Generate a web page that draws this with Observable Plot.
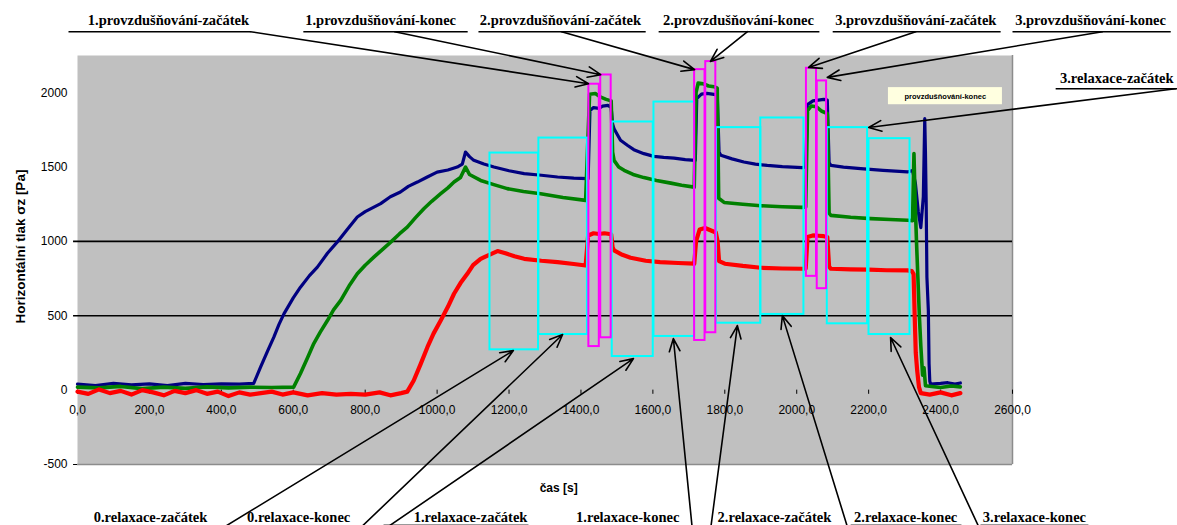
<!DOCTYPE html>
<html><head><meta charset="utf-8">
<script src="https://cdn.jsdelivr.net/npm/d3@7"></script>
<script src="https://cdn.jsdelivr.net/npm/@observablehq/plot@0.6"></script>
<style>body{margin:0;background:#fff}</style>
</head><body><div id="chart"></div>
<script>
// ---- measured series: [time s, horizontal pressure Pa] ----
const blueSeries = [[0,40],[50,30],[100,45],[150,35],[200,42],[250,30],[300,45],[350,38],[400,42],[450,40],[490,45],[509,154],[530,270],[546,356],[560,440],[574,513],[600,620],[620,692],[645,770],[667,827],[695,920],[722,995],[750,1080],[778,1164],[800,1200],[843,1254],[870,1300],[898,1332],[920,1370],[945,1399],[970,1430],[1000,1466],[1030,1480],[1056,1500],[1070,1520],[1079,1601],[1090,1570],[1102,1545],[1130,1520],[1158,1500],[1200,1475],[1242,1456],[1290,1445],[1335,1433],[1380,1425],[1420,1422],
[1425,1880],[1435,1900],[1450,1895],[1460,1910],[1475,1915],[1484,1900],
[1488,1790],[1492,1758],[1510,1680],[1530,1645],[1547,1617],[1575,1590],[1603,1572],[1630,1565],[1659,1560],[1690,1550],[1718,1545],
[1722,1960],[1735,1990],[1750,1995],[1765,1990],[1779,1985],
[1784,1600],[1789,1579],[1820,1555],[1853,1534],[1885,1520],[1918,1511],[1960,1503],[2015,1496],[2025,1500],
[2030,1920],[2045,1945],[2060,1950],[2075,1955],[2085,1950],
[2090,1530],[2095,1511],[2130,1500],[2178,1489],[2240,1478],[2308,1467],[2322,1477],
[2330,1390],[2338,1200],[2345,1093],[2352,1300],[2356,1825],[2358,1590],[2360,1255],[2362,760],[2366,535],[2368,178],[2370,60],[2372,40],[2400,45],[2420,50],[2440,40],[2455,48]];

const greenSeries = [[0,20],[60,15],[120,25],[180,10],[240,20],[300,12],[360,22],[420,15],[480,20],[540,18],[601,20],[620,112],[640,220],[657,313],[675,390],[695,468],[712,540],[732,603],[755,700],[778,782],[800,840],[824,894],[850,950],[871,995],[895,1050],[917,1096],[940,1160],[963,1220],[985,1270],[1010,1321],[1030,1360],[1047,1399],[1065,1430],[1079,1500],[1090,1450],[1121,1410],[1160,1380],[1195,1355],[1240,1335],[1288,1321],[1350,1295],[1413,1276],
[1424,1990],[1440,1994],[1455,1970],[1470,1955],[1484,1945],
[1488,1600],[1492,1545],[1505,1500],[1520,1478],[1545,1450],[1575,1429],[1610,1410],[1650,1392],[1680,1378],[1715,1365],
[1720,2000],[1726,2065],[1740,2060],[1755,2045],[1770,2040],[1779,2030],
[1783,1290],[1798,1262],[1850,1250],[1900,1240],[1960,1233],[2015,1229],[2025,1232],
[2030,1880],[2040,1910],[2055,1905],[2070,1875],[2085,1860],
[2090,1190],[2095,1175],[2150,1162],[2206,1153],[2260,1147],[2308,1142],[2322,1140],
[2326,1590],[2329,1300],[2333,1000],[2337,750],[2341,500],[2345,300],[2350,100],[2354,150],[2358,30],[2375,25],[2400,18],[2430,28],[2455,22]];

const redSeries = [[0,-10],[30,-25],[60,5],[90,-20],[120,-5],[150,-30],[180,0],[210,-15],[240,-35],[270,-5],[300,-20],[330,0],[360,-25],[390,-10],[420,-40],[450,-15],[480,-30],[510,-20],[540,-10],[570,-30],[600,-15],[640,-35],[680,-20],[720,-30],[760,-25],[800,-30],[840,-15],[870,-35],[900,-20],[917,-10],[935,65],[955,180],[973,289],[990,380],[1010,468],[1030,560],[1047,648],[1065,720],[1084,782],[1100,840],[1121,883],[1145,910],[1168,935],[1190,920],[1215,900],[1242,883],[1290,870],[1335,861],[1380,848],[1413,838],
[1420,1040],[1435,1055],[1450,1050],[1465,1055],[1484,1048],
[1488,960],[1492,939],[1515,910],[1538,890],[1580,870],[1620,861],[1670,855],[1715,850],
[1720,1000],[1730,1080],[1745,1090],[1760,1075],[1775,1060],[1780,1000],
[1784,868],[1800,850],[1850,835],[1900,823],[1960,818],[2015,816],[2025,818],
[2030,1030],[2045,1040],[2060,1038],[2075,1035],[2085,1030],
[2090,830],[2095,816],[2150,812],[2200,810],[2250,806],[2308,805],[2320,800],
[2325,780],[2328,500],[2331,250],[2335,130],[2340,20],[2345,-20],[2370,-30],[2400,-15],[2430,-35],[2455,-20]];

// ---- axes ----
const xTicks = [0,200,400,600,800,1000,1200,1400,1600,1800,2000,2200,2400,2600];
const xTickLabels = ["0,0","200,0","400,0","600,0","800,0","1000,0","1200,0","1400,0","1600,0","1800,0","2000,0","2200,0","2400,0","2600,0"];
const yTicks = [2000,1500,1000,500,0,-500];
const yTickLabels = ["2000","1500","1000","500","0","-500"];
const gridValues = [1000,500];

// ---- windows (s, Pa) ----
const aerStart = [1422,1455,1716,1747,2027,2057];
const aerEnd   = [1451,1484,1745,1775,2055,2083];
const aerLow   = [293,352,334,386,765,682];
const aerHigh  = [2057,2119,2155,2209,2164,2079];

const relStart = [1147,1283,1487,1603,1777,1900,2085,2201];
const relEnd   = [1282,1418,1601,1716,1900,2020,2197,2315];
const relLow   = [271,374,226,361,450,509,446,374];
const relHigh  = [1594,1695,1803,1937,1765,1830,1765,1691];

// ---- annotation labels ----
const topLabels = ["1.provzdušňování-začátek","1.provzdušňování-konec","2.provzdušňování-začátek","2.provzdušňování-konec","3.provzdušňování-začátek","3.provzdušňování-konec","3.relaxace-začátek"];
const topLabelT = [253,843,1343,1838,2331,2817,2890];
const topLabelV = [2484,2484,2484,2484,2484,2484,2094];
const topUnderT1 = [-25,628,1115,1616,2100,2600,2720];
const topUnderT2 = [481,1085,1580,2063,2567,3040,3059];
const topUnderV = [2410,2410,2410,2410,2410,2410,2026];
const topFromT = [481,882,1346,1863,2331,2850,3053];
const topToT = [1421,1455,1716,1760,2033,2085,2200];
const topToV = [2060,2121,2155,2210,2170,2103,1766];

const bottomLabels = ["0.relaxace-začátek","0.relaxace-konec","1.relaxace-začátek","1.relaxace-konec","2.relaxace-začátek","2.relaxace-konec","3.relaxace-konec"];
const bottomLabelT = [203,615,1093,1530,1938,2303,2661];
const bottomFromT = [392,779,848,1710,1760,2144,2511];
const bottomToT = [1212,1349,1546,1657,1835,1960,2261];
const bottomToV = [266,374,212,347,434,501,354];
const bottomUnderT1 = [851,2150,2511];
const bottomUnderT2 = [1254,2458,2811];

const noteText = ["provzdušňování-konec"];

// ---- build tables ----
const rows = (arr) => arr.map(([t, v]) => ({t, v}));
const aer = aerStart.map((d, i) => ({x1: d, x2: aerEnd[i], y1: aerLow[i], y2: aerHigh[i]}));
const rel = relStart.map((d, i) => ({x1: d, x2: relEnd[i], y1: relLow[i], y2: relHigh[i]}));
const tops = topLabels.map((s, i) => ({s, t: topLabelT[i], v: topLabelV[i], u1: topUnderT1[i], u2: topUnderT2[i], uv: topUnderV[i], ft: topFromT[i], tt: topToT[i], tv: topToV[i]}));
const bots = bottomLabels.map((s, i) => ({s, t: bottomLabelT[i], ft: bottomFromT[i], tt: bottomToT[i], tv: bottomToV[i]}));
const botUnders = bottomUnderT1.map((d, i) => ({a: d, b: bottomUnderT2[i]}));

const serif = "Liberation Serif, Times New Roman, serif";
const sans = "Liberation Sans, Arial, sans-serif";
const labelV = -857, fromV = -944, botUnderV = -905;

const chart = Plot.plot({
  width: 1177, height: 525,
  marginLeft: 77, marginRight: 165, marginTop: 55, marginBottom: 61,
  x: {domain: [0, 2600], axis: null},
  y: {domain: [-500, 2250], axis: null},
  style: {background: "transparent"},
  marks: [
    Plot.frame({fill: "#c0c0c0", stroke: null}),
    Plot.ruleX([2600], {stroke: "#8c8c8c", strokeWidth: 1.5}),
    Plot.ruleY([-500], {stroke: "#8c8c8c", strokeWidth: 1.5}),
    Plot.ruleY(gridValues, {x1: () => -11, x2: () => 2600, stroke: "#000", strokeWidth: 1.6}),
    Plot.ruleY([-500], {x1: () => -11, x2: () => 0, stroke: "#000"}),
    Plot.ruleX(xTicks, {y1: () => 0, y2: () => -28, stroke: "#000", strokeWidth: 1}),
    Plot.text(xTicks, {x: d => d, y: () => 0, dy: 20, text: (d, i) => xTickLabels[i], fontSize: 12, fontFamily: sans, fill: "#000"}),
    Plot.text(yTicks, {x: () => 0, y: d => d, dx: -10, textAnchor: "end", text: (d, i) => yTickLabels[i], fontSize: 12, fontFamily: sans, fill: "#000"}),
    Plot.text(["Horizontální tlak σz [Pa]"], {x: () => -158, y: () => 965, rotate: -90, fontSize: 13.5, fontWeight: "bold", fontFamily: sans, fill: "#000"}),
    Plot.text(["čas [s]"], {x: () => 1338, y: () => -662, fontSize: 12, fontWeight: "bold", fontFamily: sans, fill: "#000"}),

    Plot.line(rows(blueSeries), {x: "t", y: "v", stroke: "#000080", strokeWidth: 3.2}),
    Plot.line(rows(greenSeries), {x: "t", y: "v", stroke: "#008000", strokeWidth: 3.6}),
    Plot.line(rows(redSeries), {x: "t", y: "v", stroke: "#ff0000", strokeWidth: 4.2}),

    Plot.rect(rel, {x1: "x1", x2: "x2", y1: "y1", y2: "y2", fill: "none", stroke: "#00ffff", strokeWidth: 2}),
    Plot.rect(aer, {x1: "x1", x2: "x2", y1: "y1", y2: "y2", fill: "none", stroke: "#ff00ff", strokeWidth: 2}),

    Plot.rect(noteText, {x1: () => 2255, x2: () => 2572, y1: () => 1919, y2: () => 2034, fill: "#ffffe0"}),
    Plot.text(noteText, {x: () => 2413, y: () => 1977, text: d => d, fontSize: 7.5, fontWeight: "bold", fontFamily: sans, fill: "#000"}),

    Plot.text(tops, {x: "t", y: "v", text: "s", fontSize: 14.5, fontWeight: "bold", fontFamily: serif, fill: "#000"}),
    Plot.link(tops, {x1: "u1", x2: "u2", y1: "uv", y2: "uv", stroke: "#000", strokeWidth: 1.5}),
    Plot.arrow(tops, {x1: "ft", y1: "uv", x2: "tt", y2: "tv", stroke: "#000", strokeWidth: 1.6, headLength: 13, headAngle: 45}),

    Plot.text(bots, {x: "t", y: () => labelV, text: "s", fontSize: 14.5, fontWeight: "bold", fontFamily: serif, fill: "#000"}),
    Plot.link(botUnders, {x1: "a", x2: "b", y1: () => botUnderV, y2: () => botUnderV, stroke: "#999", strokeWidth: 1.5}),
    Plot.arrow(bots, {x1: "ft", y1: () => fromV, x2: "tt", y2: "tv", stroke: "#000", strokeWidth: 1.6, headLength: 13, headAngle: 45})
  ]
});
document.getElementById("chart").appendChild(chart);
</script></body></html>
